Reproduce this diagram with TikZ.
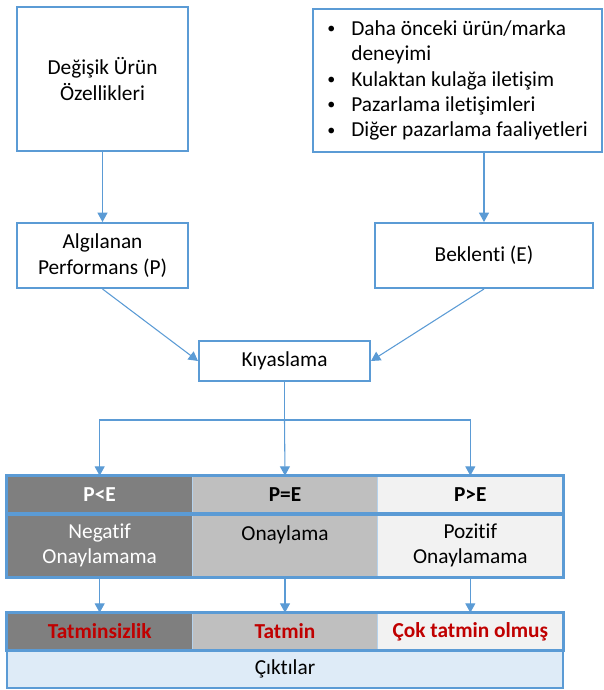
\documentclass[tikz,border=0pt]{standalone}
\usepackage{fontspec}
\setmainfont[Ligatures={NoCommon}, Contextuals={NoAlternate}]{Carlito}
\usepackage{tikz}
\usetikzlibrary{arrows.meta}
\usetikzlibrary{calc}
\definecolor{kenar}{RGB}{91,155,213}
\definecolor{koyu}{RGB}{127,127,127}
\definecolor{orta}{RGB}{191,191,191}
\definecolor{acik}{RGB}{242,242,242}
\definecolor{cikti}{RGB}{222,235,247}
\definecolor{kirmizi}{RGB}{192,0,0}
\newcommand{\madde}{\makebox[18pt][l]{\raisebox{1.2pt}{\fontsize{12}{12}\selectfont\textbullet}}}
\tikzset{kutu/.style={draw=kenar, line width=1.5pt, fill=white, align=center, inner sep=0pt}, ok/.style={draw=kenar, line width=0.8pt, -{Triangle[width=7.5pt,length=7pt]}}, hucre/.style={draw=white!55!kenar, line width=0.5pt, minimum width=139pt, align=center, inner sep=0pt}, cerceve/.style={draw=kenar, line width=2pt}, sonuc/.style={font=\fontsize{16}{19}\selectfont\bfseries, text=kirmizi}}

\begin{document}
\begin{tikzpicture}[x=0.75pt,y=-0.75pt, every node/.style={font=\fontsize{16}{19}\selectfont}]
\useasboundingbox (0,0) rectangle (604,690);
% ust kutular
\node[kutu, minimum width=128.25pt, minimum height=108pt] (ozel) at (102.5,79) {Değişik Ürün\\Özellikleri};
\node[kutu, minimum width=216.75pt, minimum height=107.25pt, align=left] (kaynak) at (457.5,80.5) {\madde Daha önceki ürün/marka\\\hspace*{18pt}deneyimi\\\madde Kulaktan kulağa iletişim\\\madde Pazarlama iletişimleri\\\madde Diğer pazarlama faaliyetleri};
\node[kutu, minimum width=128.25pt, minimum height=48.75pt] (algi) at (102.5,255.5) {Algılanan\\Performans (P)};
\node[kutu, minimum width=163.5pt, minimum height=48.75pt] (beklenti) at (484,255.5) {Beklenti (E)};
\node[kutu, minimum width=128.25pt, minimum height=30pt] (kiyas) at (284.5,361) {Kıyaslama};
\coordinate (ayrim) at (284.5,420);
% tablo
\node[hucre, fill=koyu, text=white, font=\fontsize{16}{19}\selectfont\bfseries, minimum height=28.5pt] (pkucuk) at (99.67,495) {P<E};
\node[hucre, fill=orta, font=\fontsize{16}{19}\selectfont\bfseries, minimum height=28.5pt] (pesit) at (285,495) {P=E};
\node[hucre, fill=acik, font=\fontsize{16}{19}\selectfont\bfseries, minimum height=28.5pt] (pbuyuk) at (470.33,495) {P>E};
\node[hucre, fill=koyu, text=white, minimum height=47.25pt] (negatif) at (99.67,545.5) {Negatif\\Onaylamama};
\node[hucre, fill=orta, minimum height=47.25pt] (onay) at (285,545.5) {Onaylama\\\mbox{}};
\node[hucre, fill=acik, minimum height=47.25pt] (pozitif) at (470.33,545.5) {Pozitif\\Onaylamama};
\node[hucre, sonuc, fill=koyu, minimum height=27.75pt] (tatminsiz) at (99.67,631.5) {Tatminsizlik};
\node[hucre, sonuc, fill=orta, minimum height=27.75pt] (tatmin) at (285,631.5) {Tatmin};
\node[hucre, sonuc, fill=acik, minimum height=27.75pt] (coktatmin) at (470.33,631.5) {Çok tatmin olmuş};
\node[cerceve, fill=cikti, minimum width=417pt, minimum height=28.5pt, inner sep=0pt] (ciktilar) at (285,669) {Çıktılar};
\draw[cerceve] (pkucuk.north west) rectangle (pbuyuk.south east);
\draw[cerceve] (negatif.north west) rectangle (pozitif.south east);
\draw[cerceve] (tatminsiz.north west) rectangle (coktatmin.south east);
% oklar
\draw[ok] (ozel) -- (algi);
\draw[ok] (beklenti.north |- kaynak.south) -- (beklenti.north);
\draw[ok] (algi.south) -- (kiyas.west);
\draw[ok] (beklenti.south) -- (kiyas.east);
\draw[draw=kenar, line width=0.8pt] (kiyas) -- (ayrim);
\draw[ok] (ayrim) -| (pkucuk.north);
\draw[ok] (ayrim) -- (pesit.north);
\draw[ok] (ayrim) -| (pbuyuk.north);
\draw[ok] (negatif) -- (tatminsiz);
\draw[ok] (onay) -- (tatmin);
\draw[ok] (pozitif) -- (coktatmin);
\end{tikzpicture}
\end{document}
